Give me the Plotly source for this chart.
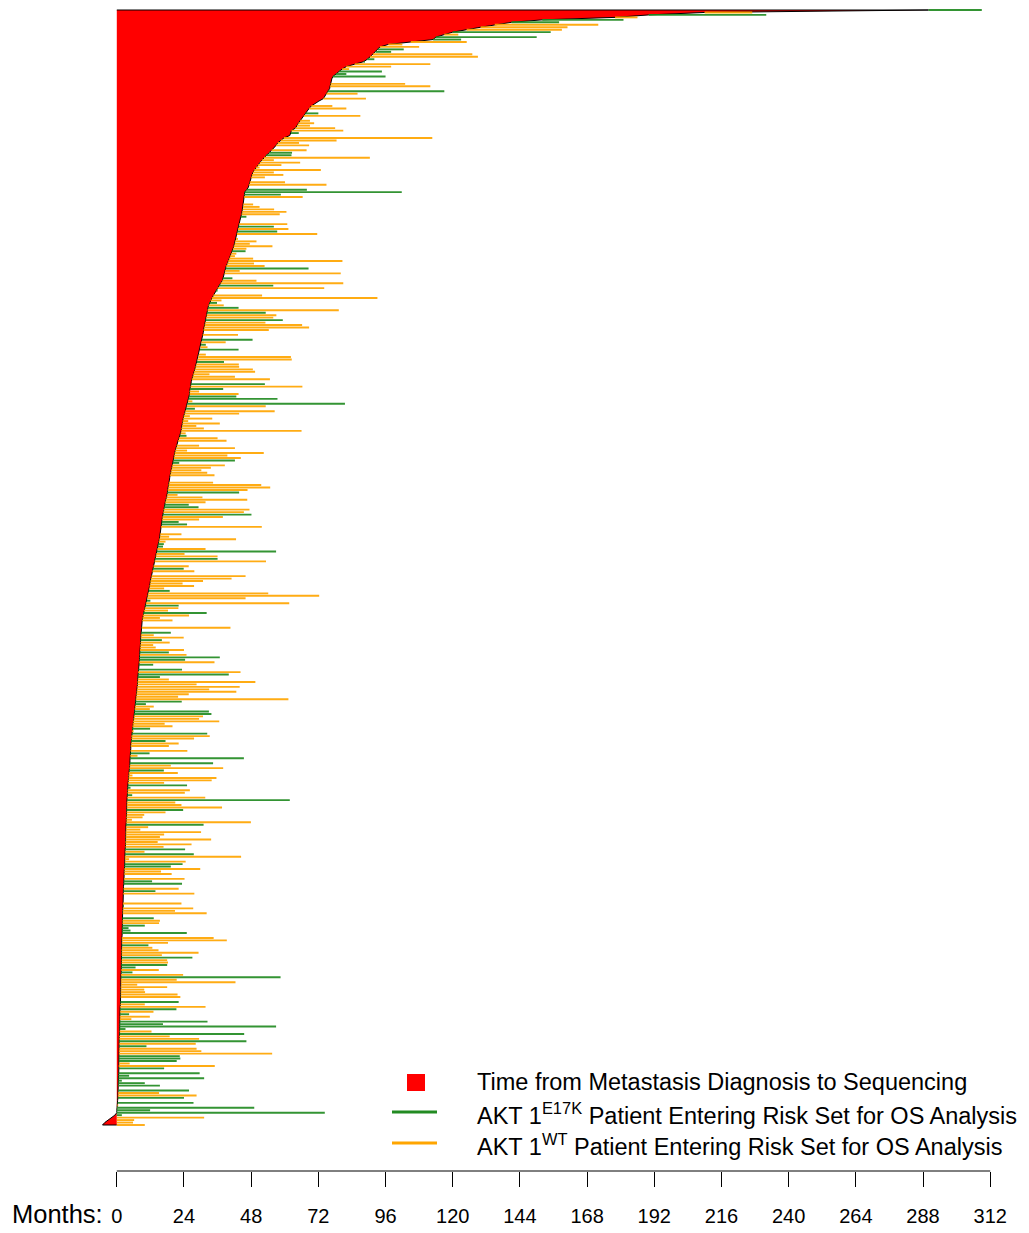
import plotly.graph_objects as go

# ---------------- data (one entry per patient, sorted top -> bottom) ----------------
# months from metastasis diagnosis to sequencing
seq_months = [
    290, 210, 190, 178, 152, 141, 135, 130, 125, 120,
    117, 114, 113, 105, 97, 94, 93.2, 92.4, 91.5, 90.5,
    89.5, 88.2, 85, 82, 80.5, 79.4, 78.3, 77.2, 76.8, 76.6,
    76.4, 76.2, 76, 75.4, 74.9, 74.4, 73.8, 72.2, 70.9, 69.5,
    68.7, 68, 67.4, 66.8, 66.2, 65.5, 64.9, 64.4, 63.8, 62.4,
    62.2, 61.8, 59.7, 58.6, 57.5, 56.9, 56.2, 55.3, 54.4, 53.4,
    52.6, 51.8, 51.1, 50.4, 49.7, 49.1, 48.6, 48.3, 48, 47.7,
    47.5, 47.2, 47, 46.4, 45.7, 45.6, 45.5, 45.4, 45.3, 45.2,
    45.1, 45, 44.8, 44.6, 44.3, 44.1, 43.9, 43.7, 43.5, 43.3,
    43.1, 42.9, 42.8, 42.6, 42.3, 42.1, 41.8, 41.5, 41.2, 40.9,
    40.5, 40.1, 39.8, 39.5, 39.1, 38.9, 38.7, 38.5, 38.2, 38,
    37.7, 37.1, 36.5, 36, 35.4, 35, 34.5, 34, 33.5, 33.1,
    32.8, 32.6, 32.4, 32.2, 32.1, 31.9, 31.7, 31.6, 31.4, 31.2,
    31, 30.9, 30.7, 30.5, 30.4, 30.2, 30.1, 29.9, 29.7, 29.5,
    29.3, 29.1, 28.9, 28.6, 28.4, 28.1, 27.9, 27.6, 27.3, 27.1,
    26.8, 26.6, 26.5, 26.3, 26.2, 26, 26, 25.8, 25.6, 25.4,
    25.2, 25, 24.7, 24.5, 24.2, 23.9, 23.7, 23.5, 23.4, 23.3,
    23.1, 23, 22.8, 22.5, 22.2, 21.9, 21.6, 21.4, 21.2, 20.9,
    20.7, 20.5, 20.4, 20.2, 20, 19.8, 19.6, 19.4, 19.2, 19,
    18.9, 18.8, 18.6, 18.5, 18.4, 18.2, 18.1, 18, 17.8, 17.5,
    17.3, 17.1, 16.9, 16.7, 16.6, 16.4, 16.3, 16.2, 16.1, 16,
    15.8, 15.7, 15.6, 15.5, 15.4, 15.2, 15, 14.8, 14.6, 14.5,
    14.3, 14.1, 13.9, 13.7, 13.5, 13.3, 13.1, 12.9, 12.7, 12.5,
    12.4, 12.2, 12, 11.9, 11.7, 11.6, 11.4, 11.2, 11, 10.9,
    10.7, 10.4, 10.2, 10, 9.7, 9.5, 9.3, 9.2, 9.1, 9,
    8.9, 8.9, 8.8, 8.7, 8.6, 8.6, 8.5, 8.5, 8.4, 8.3,
    8.3, 8.2, 8.2, 8.1, 8.1, 8, 7.9, 7.8, 7.7, 7.6,
    7.6, 7.5, 7.5, 7.4, 7.4, 7.3, 7.2, 7.1, 7, 6.9,
    6.8, 6.7, 6.6, 6.5, 6.4, 6.3, 6.2, 6.1, 6, 5.8,
    5.7, 5.6, 5.5, 5.4, 5.3, 5.2, 5.2, 5.1, 5.1, 5,
    5, 4.9, 4.9, 4.8, 4.8, 4.7, 4.7, 4.6, 4.5, 4.4,
    4.3, 4.2, 4.2, 4.1, 4, 4, 3.9, 3.9, 3.8, 3.8,
    3.7, 3.7, 3.6, 3.6, 3.6, 3.5, 3.5, 3.5, 3.4, 3.4,
    3.4, 3.3, 3.3, 3.3, 3.2, 3.2, 3.2, 3.2, 3.1, 3.1,
    3.1, 3, 3, 3, 2.9, 2.9, 2.9, 2.8, 2.8, 2.7,
    2.7, 2.7, 2.6, 2.6, 2.5, 2.5, 2.4, 2.4, 2.4, 2.3,
    2.3, 2.3, 2.2, 2.2, 2.2, 2.2, 2.1, 2.1, 2.1, 2,
    2, 2, 2, 1.9, 1.9, 1.9, 1.9, 1.8, 1.8, 1.8,
    1.8, 1.8, 1.7, 1.7, 1.7, 1.7, 1.7, 1.7, 1.6, 1.6,
    1.6, 1.6, 1.5, 1.5, 1.5, 1.5, 1.5, 1.4, 1.4, 1.4,
    1.4, 1.4, 1.3, 1.3, 1.3, 1.2, 1.2, 1.2, 1.2, 1.1,
    1.1, 1.1, 1, 1, 1, 1, 1, 0.9, 0.9, 0.9,
    0.9, 0.9, 0.9, 0.8, 0.8, 0.8, 0.8, 0.8, 0.8, 0.7,
    0.7, 0.7, 0.7, 0.6, 0.6, 0.6, 0.6, 0.5, 0.5, 0.5,
    0.5, 0.4, 0.4, 0.3, 0.3, 0.2, 0.1, 0, 0, -0.7,
    -1.9, -3.2, -4.3, -5.1,
]

# months from metastasis diagnosis to end of OS follow-up (None = no segment)
end_months = [
    309, 227, 232, 186, 181, 158, 172, 161, 159, 155,
    122, 150, 123, 125, 102, 108, 102.5, 98, 127, 129,
    92, 88.6, 112, 98, 83, 94.7, 82, 96, None, None,
    103, 112, None, 117, 86, None, 89, None, None, 77,
    82, None, 72, 87, None, 69, 70.5, 69, 78, 80.9,
    65, None, 112.7, 78.5, 65.1, 68.7, None, 67.8, 62.6, 62.4,
    90.4, 56.1, 65.5, 58.8, 51, 72.9, 56.1, 59.5, 52.9, None,
    60.1, 74.9, None, 67.9, 101.8, 58.6, 66.4, None, None, 48.7,
    51, 56.2, 60.6, 58.2, 46.3, None, None, 60.9, 56.1, 61.3,
    57.3, 71.6, None, 43.3, 49.9, 47.5, 55.6, 46.3, 46, 42.7,
    42.2, 48.7, 80.6, 49, 52.8, 68.5, 43.9, 80, None, 41.3,
    49.9, 80.9, 55.9, 74.1, 36, None, 51.9, 93.1, 37.4, 35.8,
    38.2, 43.5, 79.3, 53.2, 57, 55.9, 59.3, 53.1, 66.2, 68.7,
    54.3, None, 43.3, None, 48.5, 38.9, 31.8, 32.4, 43.5, None,
    31.8, 62.2, 62.5, 38.3, 43.6, 43.7, 48.6, 49.4, 33.1, 42.2,
    54.7, None, 52.9, 66.3, 38, 29.4, 43.5, 42.7, 57.4, 27,
    81.5, 53.2, 27.9, 56.4, 43.7, 26.1, 34.1, 25.5, 36.8, 28.4,
    31.1, 66, 24.6, 24.9, 36, 39.2, None, 29.4, 42.2, 25.1,
    52.5, 39.5, 44.3, 42.2, 22.3, 38.6, 33.6, 30.2, 32.3, 34.9,
    None, None, 34.4, 51.6, 54.8, 46.7, 43.7, 21.7, 30.6, 46.6,
    31.7, 25.7, 29.2, 47.4, 45.4, 48.1, 37.9, 29.4, 22.1, 25.1,
    51.8, None, None, 23.1, 18.7, 42.6, 17.4, 16.8, 16.5, 31.7,
    56.9, 24.2, 36, 36, 53.3, None, 25.7, 23.9, 27.7, None,
    46, 41, 30.8, 23.5, 27.6, 16.9, 18.9, 54.1, 72.3, 46,
    12, 61.6, 22.1, 22, 18.3, 32.1, 25.8, 15.4, 19.9, None,
    None, 40.6, None, 19.3, 13.2, 23.9, 16.1, 18.9, 13, 13.9,
    24, 18.6, 24.9, 36.8, 24.4, 34.9, 13, None, 23.3, 44.2,
    40, 15.4, 18.6, 49.5, 28.5, 43.9, 33, 42.7, 25.7, 21.9,
    61.3, 23.2, 10.4, 13.2, 11.8, 32.9, 33.8, 30.8, 29.4, 36.6,
    17.1, 19.9, 11.9, 6, 32.3, 33.2, 27.6, 17.4, 22.1, 18.6,
    None, 25.2, 11.7, 7.4, 45.4, None, 34.4, 19.3, 38, 16.8,
    21.8, 5.6, 35.6, 33.9, 16.9, 25.1, 4.9, 26.1, 24.3, 5.5,
    31.6, 61.8, 20.9, 23.1, 37.6, 23.7, 17.4, 9.8, 9.2, 5.4,
    47.9, 31, 11.2, 8.4, 30.1, 16.9, 15.4, 33.7, 14.6, 26.7,
    16.7, 24.4, 9.9, 27.5, 44.4, 4.4, 24.6, 23.5, 19.3, 29.8,
    15.8, 19.6, None, 24.2, 12.6, 23.3, None, 22.1, 13.8, 27.7,
    None, None, None, 23.1, 2.5, 27.3, 20.8, 32.1, None, 13.2,
    15.4, 15.1, 10, 4.2, 4.9, 25, None, 34.6, 39.3, 18.3,
    11.3, 12.7, 14.9, 29.2, 16.1, 27, 18, 18.3, 18, 6.7,
    15, 5.6, 23.7, 58.5, 21.4, 42.4, 7.3, 18, 9.8, 10.1,
    21.7, 22.7, None, 22.1, 10, 31.7, 21.3, 13.1, 4.4, 11.8,
    5.2, 32.4, 16.5, 56.9, 3.1, 12.4, 45.5, 18.9, 29.4, 46.3,
    28.2, 10.6, 28.5, 30.2, 55.5, 22.5, 22.7, 21.4, 4.6, 35,
    16.9, None, 29.6, 4.4, 31.2, 1.8, 10, 15.4, None, 25.8,
    15.1, 28.5, 24, None, 27.4, 0.5, 49.1, 11.9, 74.3, 1.8,
    31.2, 6.2, 5.8, 10,
]

# AKT1 status per patient: G = E17K, O = wild type, - = no segment
akt1_status = list(
    "GOGOGGOOOG" "OGGOOOGGOO" "GGOOOGGG--" "OO-GO-O--O" "O-GO-OOOOO"
    "G-OOOO-OGG" "OOOOOOOOO-" "OO-GGGO--O" "OOOOG--OGO" "GO-OOOOOGO"
    "OOOOOGOO-G" "OOGOG-OOOG" "OGOGOOGOOO" "O-O-GOGOG-" "OOOGOOOOOO"
    "O-GOGOOGGO" "GOGOOOOOOO" "OOOGOO-OOO" "OOOGGOOOOO" "--OOOOGOOO"
    "OGGOOGOOGG" "O--OOOOGGO" "GOOGO-OGO-" "OOOOOOGOOO" "GOGOOGOOO-"
    "-O-GOOGOOO" "OGOGGOG-GO" "GGOOOOOOOO" "OGGOOGGOOO" "OOGOGOOGOO"
    "-OGOG-GOOG" "OOOOOGGOOG" "OGOOOGOOOO" "OGOOOOOOOO" "OGOGOOOGGO"
    "OO-OGG-OGO" "---OGOOO-G" "OOGGGG-OOO" "GOOOOGOOGG" "OGOGOOOOOO"
    "OO-GOOGOGO" "OGGGGOGOOG" "OGOOOGGGOO" "G-GGGGGG-G" "OOG-GOGGGG"
    "OOOO"
)

x_tick_values = list(range(0, 313, 24))
legend_labels = [
    "Time from Metastasis Diagnosis to Sequencing",
    "AKT 1<sup>E17K</sup> Patient Entering Risk Set for OS Analysis",
    "AKT 1<sup>WT</sup> Patient Entering Risk Set for OS Analysis",
]

# ---------------- layout geometry ----------------
W, H = 1029, 1233
L, R, T, B = 100, 36, 0, 62
plot_w = W - L - R
plot_h = H - T - B
n = len(seq_months)
rows = list(range(n))
row_top_px, row_bot_px = 10, 1125
ppr = (row_bot_px - row_top_px) / (n - 1)
y_top_val = -(row_top_px - T) / ppr
y_bot_val = (n - 1) + (T + plot_h - row_bot_px) / ppr

FONT = "Liberation Sans, Arial, sans-serif"
RED, GREEN, ORANGE = "#FF0000", "#228B22", "#FFA500"


def px2x(px):
    return (px - L) / plot_w


def px2y(py):
    return 1 - (py - T) / plot_h


fig = go.Figure()

# red area: time from metastasis diagnosis to sequencing
fig.add_trace(go.Scatter(
    x=[0] + seq_months + [0],
    y=[0] + rows + [n - 1],
    mode="lines", fill="toself", fillcolor=RED,
    line=dict(color="black", width=1),
    hoverinfo="skip", showlegend=False,
))

# follow-up segments
for code, color in (("G", GREEN), ("O", ORANGE)):
    xs, ys = [], []
    for i in rows:
        if akt1_status[i] != code or end_months[i] is None:
            continue
        xs += [max(seq_months[i], 0), end_months[i], None]
        ys += [i, i, None]
    fig.add_trace(go.Scatter(
        x=xs, y=ys, mode="lines",
        line=dict(color=color, width=1.9),
        opacity=0.92, hoverinfo="skip", showlegend=False,
    ))

shapes = [
    # axis line from 0 to 312 months
    dict(type="line", xref="x", yref="paper", x0=0, x1=312, y0=0, y1=0,
         line=dict(color="black", width=1)),
    # manual legend symbols
    dict(type="rect", xref="paper", yref="paper",
         x0=px2x(407), x1=px2x(425), y0=px2y(1074), y1=px2y(1091),
         fillcolor=RED, line=dict(width=0)),
    dict(type="line", xref="paper", yref="paper",
         x0=px2x(392), x1=px2x(437), y0=px2y(1112), y1=px2y(1112),
         line=dict(color=GREEN, width=3)),
    dict(type="line", xref="paper", yref="paper",
         x0=px2x(392), x1=px2x(437), y0=px2y(1143), y1=px2y(1143),
         line=dict(color=ORANGE, width=3)),
]

annotations = [
    dict(text="Months:", xref="paper", yref="paper", x=px2x(105), y=px2y(1214),
         xanchor="right", yanchor="middle", showarrow=False,
         font=dict(family=FONT, size=25.5, color="black")),
]
for lab, ypx in zip(legend_labels, (1082, 1114, 1145)):
    annotations.append(dict(
        text=lab, xref="paper", yref="paper", x=px2x(475), y=px2y(ypx),
        xanchor="left", yanchor="middle", showarrow=False,
        font=dict(family=FONT, size=23.5, color="black")))

fig.update_layout(
    width=W, height=H,
    margin=dict(l=L, r=R, t=T, b=B, pad=0),
    paper_bgcolor="white", plot_bgcolor="white",
    xaxis=dict(range=[-6, 313], tickvals=x_tick_values,
               ticktext=[str(v) for v in x_tick_values],
               ticks="outside", ticklen=15, tickwidth=1, tickcolor="black",
               showline=False, showgrid=False, zeroline=False,
               ticklabelstandoff=12,
               tickfont=dict(family=FONT, size=20, color="black")),
    yaxis=dict(range=[y_bot_val, y_top_val], visible=False,
               showgrid=False, zeroline=False),
    shapes=shapes,
    annotations=annotations,
    showlegend=False,
)

fig.write_html("out.html", config={"displayModeBar": False},
               post_script="document.body.style.margin='0px';")
